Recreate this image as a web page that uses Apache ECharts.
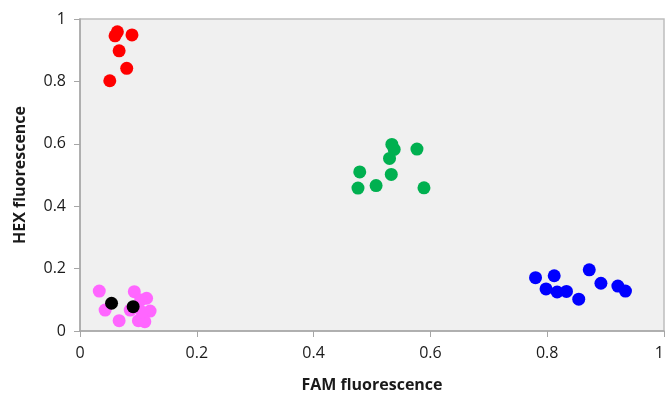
<!DOCTYPE html>
<html>
<head>
<meta charset="utf-8">
<script src="https://cdn.jsdelivr.net/npm/echarts@6/dist/echarts.min.js"></script>
<style>
  html, body { margin: 0; padding: 0; background: #fff; }
  #chart { width: 668px; height: 394px; }
</style>
</head>
<body>
<div id="chart"></div>
<script>
// Cluster points as [FAM, HEX] fluorescence pairs
const redPoints = [
  [0.064, 0.959], [0.060, 0.946], [0.089, 0.949], [0.067, 0.898],
  [0.080, 0.842], [0.051, 0.802]
];
const greenPoints = [
  [0.534, 0.598], [0.538, 0.582], [0.530, 0.553], [0.577, 0.583],
  [0.479, 0.510], [0.533, 0.502], [0.476, 0.458], [0.507, 0.466],
  [0.589, 0.459]
];
const bluePoints = [
  [0.780, 0.171], [0.812, 0.177], [0.798, 0.135], [0.817, 0.125],
  [0.833, 0.127], [0.854, 0.102], [0.872, 0.196], [0.892, 0.153],
  [0.921, 0.144], [0.934, 0.128]
];
const pinkPoints = [
  [0.033, 0.128], [0.043, 0.067], [0.067, 0.033], [0.093, 0.126],
  [0.114, 0.105], [0.120, 0.064], [0.100, 0.033], [0.111, 0.030],
  [0.086, 0.067], [0.104, 0.099], [0.106, 0.061]
];
const blackPoints = [
  [0.054, 0.089], [0.091, 0.078]
];
const axisTicks = { min: 0, max: 1, interval: 0.2 };
const xTitle = 'FAM fluorescence';
const yTitle = 'HEX fluorescence';

const font = '"Open Sans", "Liberation Sans", sans-serif';
const chart = echarts.init(document.getElementById('chart'));

function scatter(name, data, color) {
  return {
    name: name,
    type: 'scatter',
    data: data,
    symbolSize: 13,
    itemStyle: { color: color, opacity: 1 },
    emphasis: { disabled: true }
  };
}

const axisCommon = {
  min: axisTicks.min,
  max: axisTicks.max,
  interval: axisTicks.interval,
  splitLine: { show: false },
  axisLine: { show: true, lineStyle: { color: '#a6a6a6', width: 1.5 } },
  axisTick: { show: true, inside: false, length: 6, lineStyle: { color: '#a6a6a6', width: 1 } },
  axisLabel: { color: '#1a1a1a', fontSize: 16, fontFamily: font },
  nameTextStyle: { color: '#1a1a1a', fontSize: 16, fontWeight: 'bold', fontFamily: font }
};

chart.setOption({
  animation: false,
  backgroundColor: '#fff',
  grid: {
    left: 80, right: 4, top: 19, bottom: 63,
    containLabel: false,
    outerBoundsMode: 'none',
    show: true,
    backgroundColor: '#f0f0f0',
    borderColor: '#bdbdbd',
    borderWidth: 1.5
  },
  xAxis: Object.assign({}, axisCommon, {
    type: 'value',
    name: xTitle,
    nameLocation: 'middle',
    nameGap: 46,
    axisLabel: Object.assign({}, axisCommon.axisLabel, {
      margin: 14,
      alignMaxLabel: 'right',
      formatter: v => String(+v.toFixed(1))
    })
  }),
  yAxis: Object.assign({}, axisCommon, {
    type: 'value',
    name: yTitle,
    nameLocation: 'middle',
    nameGap: 52,
    axisLabel: Object.assign({}, axisCommon.axisLabel, { margin: 14, formatter: v => String(+v.toFixed(1)) })
  }),
  series: [
    scatter('red', redPoints, '#ff0000'),
    scatter('green', greenPoints, '#00b050'),
    scatter('blue', bluePoints, '#0000ff'),
    scatter('pink', pinkPoints, '#ff66ff'),
    scatter('black', blackPoints, '#000000')
  ]
});
</script>
</body>
</html>
